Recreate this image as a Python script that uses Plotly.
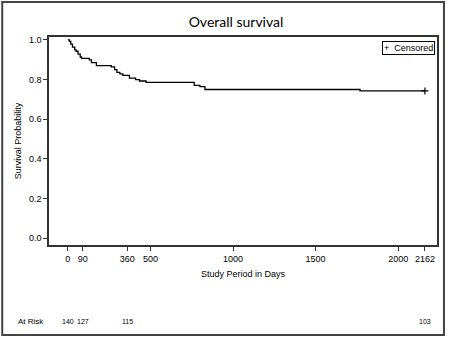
import plotly.graph_objects as go

# Kaplan-Meier step data (days, survival probability after event)
days = [0, 10, 18, 28, 42, 50, 62, 75, 83, 130, 143, 173, 263, 283, 297, 315, 333,
        373, 410, 434, 474, 765, 800, 830, 1769, 2162]
surv = [1.0, 0.993, 0.979, 0.964, 0.950, 0.943, 0.929, 0.914, 0.907, 0.900, 0.886,
        0.871, 0.864, 0.850, 0.836, 0.829, 0.821, 0.807, 0.800, 0.793, 0.786, 0.771,
        0.764, 0.750, 0.743, 0.743]

censor_days = [2162]
censor_surv = [0.743]

x_ticks = [0, 90, 360, 500, 1000, 1500, 2000, 2162]
y_ticks = [0.0, 0.2, 0.4, 0.6, 0.8, 1.0]

risk_days = [0, 90, 360, 2162]
risk_counts = [140, 127, 115, 103]

fig = go.Figure()
fig.add_trace(go.Scatter(x=days, y=surv, mode="lines", line=dict(color="black", width=1.3, shape="hv"),
                         showlegend=False, hoverinfo="skip"))
fig.add_trace(go.Scatter(x=censor_days, y=censor_surv, mode="markers",
                         marker=dict(symbol="cross-thin", size=5, line=dict(color="black", width=1.2)),
                         showlegend=False))

font_ax = dict(family="Liberation Sans, Arial", size=9, color="black")

fig.update_layout(
    width=450, height=339,
    margin=dict(l=49, r=11, t=37, b=94),
    paper_bgcolor="white", plot_bgcolor="white",
    title=dict(text="Overall survival", x=236/450, xref="container", xanchor="center",
               y=1-21.7/339, yref="container", yanchor="middle",
               font=dict(family="Lato, Open Sans", size=14, color="black")),
    xaxis=dict(range=[-114, 2235], tickvals=x_ticks, ticktext=[str(v) for v in x_ticks],
               ticks="outside", ticklen=4, tickcolor="#333", showgrid=False, zeroline=False,
               showline=True, linecolor="#333", linewidth=1.5, mirror=True,
               tickfont=font_ax,
               title=dict(text="Study Period in Days", font=font_ax, standoff=8)),
    yaxis=dict(range=[-0.035, 1.015], tickvals=y_ticks, tickformat=".1f",
               ticks="outside", ticklen=4, tickcolor="#333", showgrid=False, zeroline=False,
               showline=True, linecolor="#333", linewidth=1.5, mirror=True,
               tickfont=font_ax,
               title=dict(text="Survival Probability", font=font_ax, standoff=6)),
)

# Censored legend box
fig.add_annotation(text="+  Censored", xref="paper", yref="paper", x=0.995, y=0.981,
                   xanchor="right", yanchor="top", showarrow=False,
                   font=dict(family="Liberation Sans, Arial", size=9, color="black"),
                   bordercolor="black", borderwidth=1, borderpad=1, bgcolor="white")

# At risk row
fig.add_annotation(text="At Risk", xref="paper", yref="paper", x=(15.5-49)/390, y=(245-321)/208,
                   xanchor="left", yanchor="middle", showarrow=False,
                   font=dict(family="Liberation Sans, Arial", size=8, color="black"))
for d, n in zip(risk_days, risk_counts):
    fig.add_annotation(text=str(n), xref="x", yref="paper", x=d, y=(245-321)/208,
                       xanchor="center", yanchor="middle", showarrow=False,
                       font=dict(family="Liberation Sans, Arial", size=7, color="black"))

# Outer frame
fig.add_shape(type="rect", xref="paper", yref="paper",
              x0=(2-49)/390, x1=(446-49)/390, y0=(245-335)/208, y1=(245-2)/208,
              line=dict(color="#444", width=2))

fig.write_html("out.html", config={"displayModeBar": False},
               post_script="document.body.style.margin='0';document.body.style.overflow='hidden';")
